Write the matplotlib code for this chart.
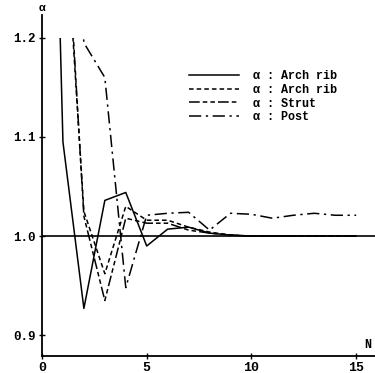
import matplotlib
matplotlib.use("Agg")
import matplotlib.pyplot as plt
from matplotlib.patches import Rectangle

# Data
n_solid = [0, 1, 2, 3, 4, 5, 6, 7, 8, 9, 10, 11, 12, 13, 14, 15]
arch_rib_solid = [1.90, 1.095, 0.927, 1.036, 1.044, 0.990, 1.007, 1.009, 1.003, 1.001, 1.000, 1.000, 1.000, 1.000, 1.000, 1.000]

n_other = [1, 2, 3, 4, 5, 6, 7, 8, 9, 10, 11, 12, 13, 14, 15]
arch_rib_dashed = [1.36, 1.025, 0.962, 1.030, 1.016, 1.016, 1.009, 1.004, 1.001, 1.000, 1.000, 1.000, 1.000, 1.000, 1.000]
strut = [1.38, 1.020, 0.935, 1.018, 1.013, 1.013, 1.006, 1.003, 1.001, 1.000, 1.000, 1.000, 1.000, 1.000, 1.000]
post = [1.50, 1.195, 1.160, 0.948, 1.021, 1.023, 1.024, 1.006, 1.023, 1.022, 1.018, 1.021, 1.023, 1.021, 1.021]

labels = ["\u03b1 : Arch rib", "\u03b1 : Arch rib", "\u03b1 : Strut", "\u03b1 : Post"]
yticks = [0.9, 1.0, 1.1, 1.2]
ytick_labels = ["0.9", "1.0", "1.1", "1.2"]
xticks = [0, 5, 10, 15]
xtick_labels = ["0", "5", "10", "15"]

mono = ["Liberation Mono", "DejaVu Sans Mono"]

fig = plt.figure(figsize=(3.75, 3.73), dpi=100)
ax = fig.add_axes([0.112, 0.0456, 0.888, 0.914])
ax.set_xlim(0, 15.9)
ax.set_ylim(0.879, 1.223)

clip = Rectangle((0, 0.5), 16, 0.7, transform=ax.transData, facecolor="none", edgecolor="none")
ax.add_patch(clip)

lw = 1.1
l1, = ax.plot(n_solid, arch_rib_solid, color="black", lw=lw, linestyle="-", label=labels[0])
l2, = ax.plot(n_other, arch_rib_dashed, color="black", lw=lw, linestyle=(0, (3, 2)), label=labels[1])
l3, = ax.plot(n_other, strut, color="black", lw=lw, linestyle=(0, (7, 2, 3, 2, 3, 2)), label=labels[2])
l4, = ax.plot(n_other, post, color="black", lw=lw, linestyle=(0, (8, 3, 1.5, 3)), label=labels[3])
for ln in (l1, l2, l3, l4):
    ln.set_clip_path(clip)

ax.axhline(1.0, color="black", lw=1.2)

for s in ["top", "right"]:
    ax.spines[s].set_visible(False)
ax.spines["left"].set_linewidth(1.3)
ax.spines["bottom"].set_linewidth(1.3)

ax.set_yticks(yticks)
ax.set_yticklabels(ytick_labels, family=mono, fontsize=9, fontweight="bold")
ax.set_xticks(xticks)
ax.set_xticklabels(xtick_labels, family=mono, fontsize=9.5, fontweight="bold")
ax.tick_params(direction="inout", length=5, width=1, pad=2)

ax.text(0, 1.2305, "\u03b1", ha="center", va="center", fontsize=8, fontweight="bold",
        family=mono, clip_on=False)
ax.text(15.55, 0.890, "N", ha="center", va="center", fontsize=8.5, fontweight="bold",
        family=mono)

leg = ax.legend(loc="upper left", bbox_to_anchor=(0.41, 0.87), frameon=False,
                prop={"family": mono, "size": 8.5, "weight": "bold"},
                handlelength=4.2, handletextpad=1.2, labelspacing=0.15)

fig.savefig("out.png", dpi=100)
